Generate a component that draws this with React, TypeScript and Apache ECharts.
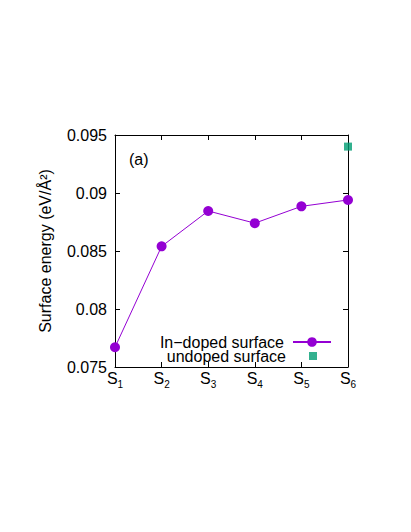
import React, { useEffect, useRef } from "react";
import * as echarts from "echarts";

const categories = ["1", "2", "3", "4", "5", "6"];
const inDoped = [0.0767, 0.0854, 0.08845, 0.0874, 0.08885, 0.0894];
const undoped = [null, null, null, null, null, 0.094];
const yTicks = { min: 0.075, max: 0.095, interval: 0.005 };
const seriesNames = ["In\u2212doped surface", "undoped surface"];

const FONT = "Liberation Sans, Arial, sans-serif";

export default function App() {
  const ref = useRef<HTMLDivElement>(null);
  useEffect(() => {
    if (!ref.current) return;
    const chart = echarts.init(ref.current, undefined, { renderer: "svg" });
    const axisLine = { show: true, lineStyle: { color: "#000", width: 1 } };
    const tick = { show: true, inside: true, length: 5, lineStyle: { color: "#000" } };
    chart.setOption({
      animation: false,
      backgroundColor: "#fff",
      textStyle: { fontFamily: FONT },
      grid: { left: 115, right: 63, top: 135, bottom: 165 },
      legend: [
        {
          data: [seriesNames[0]],
          orient: "vertical",
          align: "right",
          right: 74,
          top: 329,
          itemWidth: 38,
          itemHeight: 12,
          textStyle: { fontSize: 16, lineHeight: 14, color: "#000", fontFamily: FONT, padding: [0, 4, 0, 0] },
          selectedMode: false,
        },
        {
          data: [{ name: seriesNames[1], icon: "rect" }],
          orient: "vertical",
          align: "right",
          right: 89,
          top: 343,
          itemWidth: 8,
          itemHeight: 8,
          textStyle: { fontSize: 16, lineHeight: 14, color: "#000", fontFamily: FONT, padding: [0, 18, 0, 0] },
          selectedMode: false,
        },
      ],
      xAxis: [
        {
          type: "category",
          data: categories,
          boundaryGap: false,
          axisLine,
          axisTick: { ...tick, interval: 0 },
          axisLabel: {
            interval: 0,
            margin: 3,
            formatter: (v: string) => `{s|S}{sub|${v}}`,
            rich: {
              s: { fontSize: 16, color: "#000", fontFamily: FONT, lineHeight: 20, verticalAlign: "top" },
              sub: { fontSize: 10, color: "#000", fontFamily: FONT, lineHeight: 20, verticalAlign: "top", padding: [9, 0, 0, 0] },
            },
          },
          splitLine: { show: false },
        },
        {
          type: "category",
          data: categories,
          boundaryGap: false,
          position: "top",
          axisLine,
          axisTick: { ...tick, interval: 0 },
          axisLabel: { show: false },
          splitLine: { show: false },
        },
      ],
      yAxis: [
        {
          type: "value",
          min: yTicks.min,
          max: yTicks.max,
          interval: yTicks.interval,
          axisLine,
          axisTick: tick,
          axisLabel: { fontSize: 16, color: "#000", margin: 8, fontFamily: FONT },
          splitLine: { show: false },
          name: "Surface energy (eV/\u00c5\u00b2)",
          nameLocation: "middle",
          nameGap: 62,
          nameRotate: 90,
          nameTextStyle: { fontSize: 16, color: "#000", fontFamily: FONT },
        },
        {
          type: "value",
          min: yTicks.min,
          max: yTicks.max,
          interval: yTicks.interval,
          position: "right",
          axisLine,
          axisTick: tick,
          axisLabel: { show: false },
          splitLine: { show: false },
        },
      ],
      graphic: [
        {
          type: "text",
          left: 129,
          top: 151,
          style: { text: "(a)", fontSize: 16, fill: "#000", fontFamily: FONT },
        },
      ],
      series: [
        {
          name: seriesNames[0],
          type: "line",
          data: inDoped,
          symbol: "circle",
          symbolSize: 10,
          showSymbol: true,
          lineStyle: { color: "#9400d3", width: 1 },
          itemStyle: { color: "#9400d3" },
          clip: false,
        },
        {
          name: seriesNames[1],
          type: "scatter",
          data: undoped,
          symbol: "rect",
          symbolSize: 8,
          itemStyle: { color: "#009e73" },
          clip: false,
        },
      ],
    });
    return () => chart.dispose();
  }, []);
  return <div ref={ref} style={{ position: "fixed", left: 0, top: 0, width: 411, height: 532 }} />;
}
